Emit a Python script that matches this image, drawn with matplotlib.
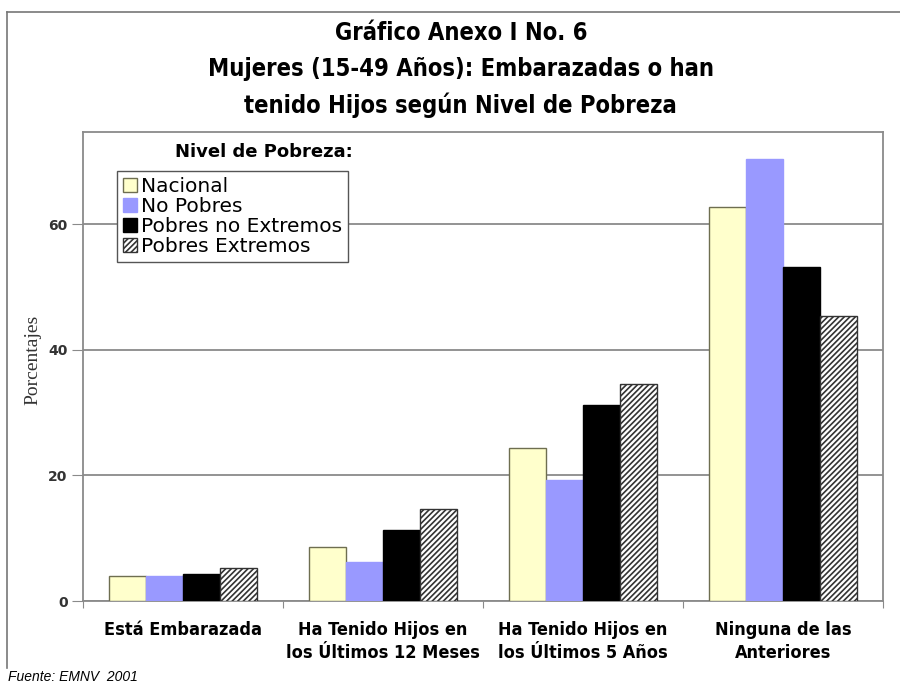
import matplotlib.pyplot as plt
from matplotlib.lines import Line2D
from matplotlib.patches import Patch
import numpy as np

categories = ["Está Embarazada", "Ha Tenido Hijos en\nlos Últimos 12 Meses",
              "Ha Tenido Hijos en\nlos Últimos 5 Años", "Ninguna de las\nAnteriores"]
series_names = ["Nacional", "No Pobres", "Pobres no Extremos", "Pobres Extremos"]
nacional = [4.0, 8.6, 24.3, 62.8]
no_pobres = [4.0, 6.2, 19.3, 70.5]
pobres_no_ext = [4.3, 11.3, 31.2, 53.2]
pobres_ext = [5.3, 14.6, 34.5, 45.4]
yticks = [0, 20, 40, 60]

values = [nacional, no_pobres, pobres_no_ext, pobres_ext]
faces = ["#FFFFCC", "#9999FF", "#000000", "#FFFFFF"]
edges = ["#6E6E50", "#9999FF", "#000000", "#333333"]
hatches = [None, None, None, "//////"]

plt.rcParams["hatch.color"] = "#333333"
plt.rcParams["hatch.linewidth"] = 1.2

fig = plt.figure(figsize=(9, 6.92), dpi=100)
ax = fig.add_axes([0.0922, 0.1315, 0.8888, 0.6775])

x = np.arange(len(categories))
w = 0.185
for i, vals in enumerate(values):
    ax.bar(x + (i - 1.5) * w, vals, width=w, color=faces[i], edgecolor=edges[i],
           hatch=hatches[i], linewidth=1.0, zorder=3)

ax.set_xlim(-0.5, len(categories) - 0.5)
ax.set_ylim(0, 74.7)
ax.set_yticks(yticks)
ax.set_yticklabels([str(t) for t in yticks], fontsize=10, fontweight="bold", color="#333333")
ax.yaxis.grid(True, color="#8a8a8a", linewidth=1.3, zorder=0)
ax.tick_params(axis="y", length=8, color="#8a8a8a", pad=3)

ax.set_xticks(np.arange(-0.5, len(categories) + 0.5, 1.0))
ax.set_xticklabels([])
ax.tick_params(axis="x", length=5, color="#8a8a8a", direction="out")
for k, lab in enumerate(categories):
    ax.text(k, -3.2, lab, ha="center", va="top", fontsize=13, fontweight="bold",
            fontstretch="condensed", family=["DejaVu Sans Condensed", "DejaVu Sans"],
            linespacing=1.35)

for s in ax.spines.values():
    s.set_color("#8a8a8a")
    s.set_linewidth(1.3)

fig.text(33 / 900, 1 - 360 / 692, "Porcentajes", family="Liberation Serif", fontsize=14,
         rotation=90, ha="center", va="center", color="#333333")

handles = [Patch(facecolor=faces[i], edgecolor=edges[i], hatch=hatches[i]) for i in range(4)]
leg = ax.legend(handles, series_names, loc="upper left", bbox_to_anchor=(0.13, 0.753),
                bbox_transform=fig.transFigure, fontsize=14.5, handlelength=0.7,
                handleheight=0.7, handletextpad=0.2, labelspacing=0.05,
                borderpad=0.3, borderaxespad=0, fancybox=False, framealpha=1)
leg.get_frame().set_edgecolor("#555555")
leg.get_frame().set_linewidth(1.0)
leg.set_zorder(5)

fig.text(0.293, 0.78, "Nivel de Pobreza:", ha="center", va="center", fontsize=13,
         fontweight="bold")

title_lines = ["Gráfico Anexo I No. 6", "Mujeres (15-49 Años): Embarazadas o han",
               "tenido Hijos según Nivel de Pobreza"]
for j, t in enumerate(title_lines):
    fig.text(0.512, 1 - (33 + j * 36) / 692, t, ha="center", va="center", fontsize=17,
             fontweight="bold", family=["DejaVu Sans Condensed", "DejaVu Sans"],
             fontstretch="condensed")

fig.text(0.009, 1 - 677 / 692, "Fuente: EMNV  2001", ha="left", va="center",
         fontsize=10, style="italic", family="Liberation Sans")

fig.add_artist(Line2D([7 / 900, 7 / 900], [1 - 12 / 692, 1 - 668 / 692],
                      color="#777777", linewidth=1.2, transform=fig.transFigure))
fig.add_artist(Line2D([7 / 900, 1.0], [1 - 12 / 692, 1 - 12 / 692],
                      color="#777777", linewidth=1.2, transform=fig.transFigure))

fig.savefig("out.png", dpi=100)
